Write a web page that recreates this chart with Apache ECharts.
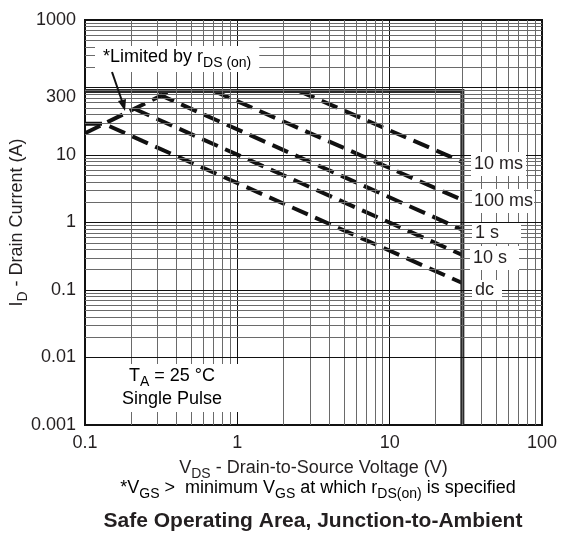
<!DOCTYPE html>
<html>
<head>
<meta charset="utf-8">
<title>Safe Operating Area, Junction-to-Ambient</title>
<script src="https://cdn.jsdelivr.net/npm/echarts@6/dist/echarts.min.js"></script>
<style>
html, body { margin: 0; padding: 0; background: #fff; }
#chart { width: 562px; height: 534px; }
</style>
</head>
<body>
<div id="chart"></div>
<script>
/* 坐标轴刻度 */
var xTicks = [0.1, 1, 10, 100];
var xTickLabels = ['0.1', '1', '10', '100'];
var yTicks = [0.001, 0.01, 0.1, 1, 10, 100, 1000];
var yTickLabels = ['0.001', '0.01', '0.1', '1', '10', '300', '1000'];

/* 曲线数据 [VDS, ID] */
var limitLine = [[0.1, 89], [30, 89], [30, 0.001]];
var rdsLine = [[0.1, 21], [0.364, 89]];
var curve10ms = [[2.53, 89], [30, 7.9]];
var curve100ms = [[0.70, 89], [30, 2.16]];
var curve1s = [[0.303, 79.5], [30, 0.78]];
var curve10s = [[0.209, 48.8], [30, 0.33]];
var curveDc = [[0.1, 29], [0.133, 29], [30, 0.127]];

var curveNames = ['10 ms', '100 ms', '1 s', '10 s', 'dc'];
var curveData = [curve10ms, curve100ms, curve1s, curve10s, curveDc];

var FONT = '"Liberation Sans", Arial, Helvetica, sans-serif';
var TXT = '#231f20';

var myChart = echarts.init(document.getElementById('chart'));

function tickLabel(v, ticks, labels) {
    for (var i = 0; i < ticks.length; i++) {
        if (Math.abs(Math.log10(v) - Math.log10(ticks[i])) < 1e-6) {
            return labels[i];
        }
    }
    return '';
}

/* 网格线 (对数坐标 2..9) */
function gridLines() {
    var res = [];
    var decX = [0.1, 1, 10];
    for (var i = 0; i < decX.length; i++) {
        for (var k = 2; k <= 9; k++) {
            res.push({xAxis: k * decX[i], lineStyle: {color: '#6a6a6a', width: 1, type: 'solid'}});
        }
        if (i > 0) res.push({xAxis: decX[i], lineStyle: {color: '#111', width: 1, type: 'solid'}});
    }
    var decY = [0.001, 0.01, 0.1, 1, 10, 100];
    for (var j = 0; j < decY.length; j++) {
        for (var m = 2; m <= 9; m++) {
            res.push({yAxis: m * decY[j], lineStyle: {color: '#6a6a6a', width: 1, type: 'solid'}});
        }
        if (j > 0) res.push({yAxis: decY[j], lineStyle: {color: '#111', width: 1, type: 'solid'}});
    }
    return res;
}

var series = [{
    name: 'grid',
    type: 'line',
    data: [],
    z: 1,
    silent: true,
    markLine: {
        silent: true,
        symbol: ['none', 'none'],
        animation: false,
        label: {show: false},
        lineStyle: {type: 'solid'},
        emphasis: {disabled: true},
        data: gridLines()
    }
}, {
    name: 'limit',
    type: 'line',
    data: limitLine,
    symbol: 'none',
    z: 4,
    silent: true,
    lineStyle: {color: '#2a2a2a', width: 4, cap: 'butt', join: 'miter'}
}, {
    name: 'rds',
    type: 'line',
    data: rdsLine,
    symbol: 'none',
    z: 3,
    silent: true,
    lineStyle: {color: '#111', width: 4, type: [17, 8], cap: 'butt'}
}];

for (var c = 0; c < curveData.length; c++) {
    series.push({
        name: curveNames[c],
        type: 'line',
        data: curveData[c],
        symbol: 'none',
        z: 3,
        silent: true,
        lineStyle: {color: '#111', width: 4, type: [17, 8], cap: 'butt'}
    });
}

var subRich = {
    m: {fontSize: 18, fontFamily: FONT, color: TXT, lineHeight: 22, verticalAlign: 'top'},
    s: {fontSize: 14, fontFamily: FONT, color: TXT, lineHeight: 14, padding: [10, 0, 0, 0], verticalAlign: 'bottom'}
};

var option = {
    animation: false,
    backgroundColor: '#fff',
    textStyle: {fontFamily: FONT, color: TXT},
    grid: {
        left: 85, right: 20, top: 20, bottom: 109,
        containLabel: false,
        outerBoundsMode: 'none',
        show: true, borderColor: '#111', borderWidth: 2, backgroundColor: 'transparent'
    },
    xAxis: {
        type: 'log',
        logBase: 10,
        min: 0.1,
        max: 100,
        splitNumber: 3,
        axisLine: {show: false},
        axisTick: {show: false},
        splitLine: {show: false},
        axisLabel: {
            margin: 9,
            fontSize: 18,
            color: TXT,
            fontFamily: FONT,
            formatter: function (v) { return tickLabel(v, xTicks, xTickLabels); }
        },
        name: '{m|V}{s|DS}{m| - Drain-to-Source Voltage (V)}',
        nameLocation: 'middle',
        nameGap: 32,
        nameTextStyle: {rich: subRich}
    },
    yAxis: {
        type: 'log',
        logBase: 10,
        min: 0.001,
        max: 1000,
        splitNumber: 6,
        axisLine: {show: false},
        axisTick: {show: false},
        splitLine: {show: false},
        axisLabel: {
            margin: 9,
            fontSize: 18,
            color: TXT,
            fontFamily: FONT,
            formatter: function (v) {
                var t = tickLabel(v, yTicks, yTickLabels);
                return t === '300' ? '{d|' + t + '}' : t;
            },
            rich: {
                d: {fontSize: 18, fontFamily: FONT, color: TXT, padding: [20, 0, 0, 0]}
            }
        },
        name: '{m|I}{s|D}{m| - Drain Current (A)}',
        nameLocation: 'middle',
        nameGap: 55,
        nameMoveOverlap: false,
        nameTextStyle: {rich: subRich}
    },
    graphic: [{
        type: 'text',
        z: 100,
        x: 95, y: 46,
        style: {
            text: '{m|*Limited by r}{s|DS (on)}',
            rich: subRich,
            backgroundColor: '#fff',
            padding: [2, 8, 2, 8]
        }
    }, {
        type: 'polyline',
        z: 100,
        shape: {points: [[112, 72], [122, 101]]},
        style: {stroke: '#111', lineWidth: 2}
    }, {
        type: 'polygon',
        z: 100,
        shape: {points: [[125, 111], [126, 99], [118, 101]]},
        style: {fill: '#111'}
    }, {
        type: 'text',
        z: 100,
        x: 172, y: 388,
        style: {
            text: '{m|T}{s|A}{m| = 25 °C}\n{c|Single Pulse}',
            rich: {
                m: subRich.m, s: subRich.s,
                c: {fontSize: 18, fontFamily: FONT, color: TXT, lineHeight: 20}
            },
            align: 'center',
            verticalAlign: 'middle',
            backgroundColor: '#fff',
            padding: [3, 18, 3, 18]
        }
    }, {
        type: 'text', z: 100, x: 471, y: 164,
        style: {text: '10 ms', font: '18px ' + FONT, fill: TXT, verticalAlign: 'middle', backgroundColor: '#fff', padding: [3, 3, 3, 3]}
    }, {
        type: 'text', z: 100, x: 472, y: 201,
        style: {text: '100 ms', font: '18px ' + FONT, fill: TXT, verticalAlign: 'middle', backgroundColor: '#fff', padding: [3, 1, 3, 2]}
    }, {
        type: 'text', z: 100, x: 472, y: 233,
        style: {text: '1 s', font: '18px ' + FONT, fill: TXT, verticalAlign: 'middle', backgroundColor: '#fff', padding: [1, 22, 1, 3]}
    }, {
        type: 'text', z: 100, x: 470, y: 258,
        style: {text: '10 s', font: '18px ' + FONT, fill: TXT, verticalAlign: 'middle', backgroundColor: '#fff', padding: [3, 12, 3, 3]}
    }, {
        type: 'text', z: 100, x: 472, y: 290,
        style: {text: 'dc', font: '18px ' + FONT, fill: TXT, verticalAlign: 'middle', backgroundColor: '#fff', padding: [1, 8, 1, 3]}
    }, {
        type: 'text', z: 100, x: 318, y: 490,
        style: {
            text: '{m|*V}{s|GS}{m| >  minimum V}{s|GS}{m| at which r}{s|DS(on)}{m| is specified}',
            rich: subRich,
            align: 'center',
            verticalAlign: 'middle'
        }
    }, {
        type: 'text', z: 100, x: 313, y: 521,
        style: {
            text: 'Safe Operating Area, Junction-to-Ambient',
            font: 'bold 21px ' + FONT,
            fill: TXT,
            align: 'center',
            verticalAlign: 'middle'
        }
    }],
    series: series
};

myChart.setOption(option);
</script>
</body>
</html>
